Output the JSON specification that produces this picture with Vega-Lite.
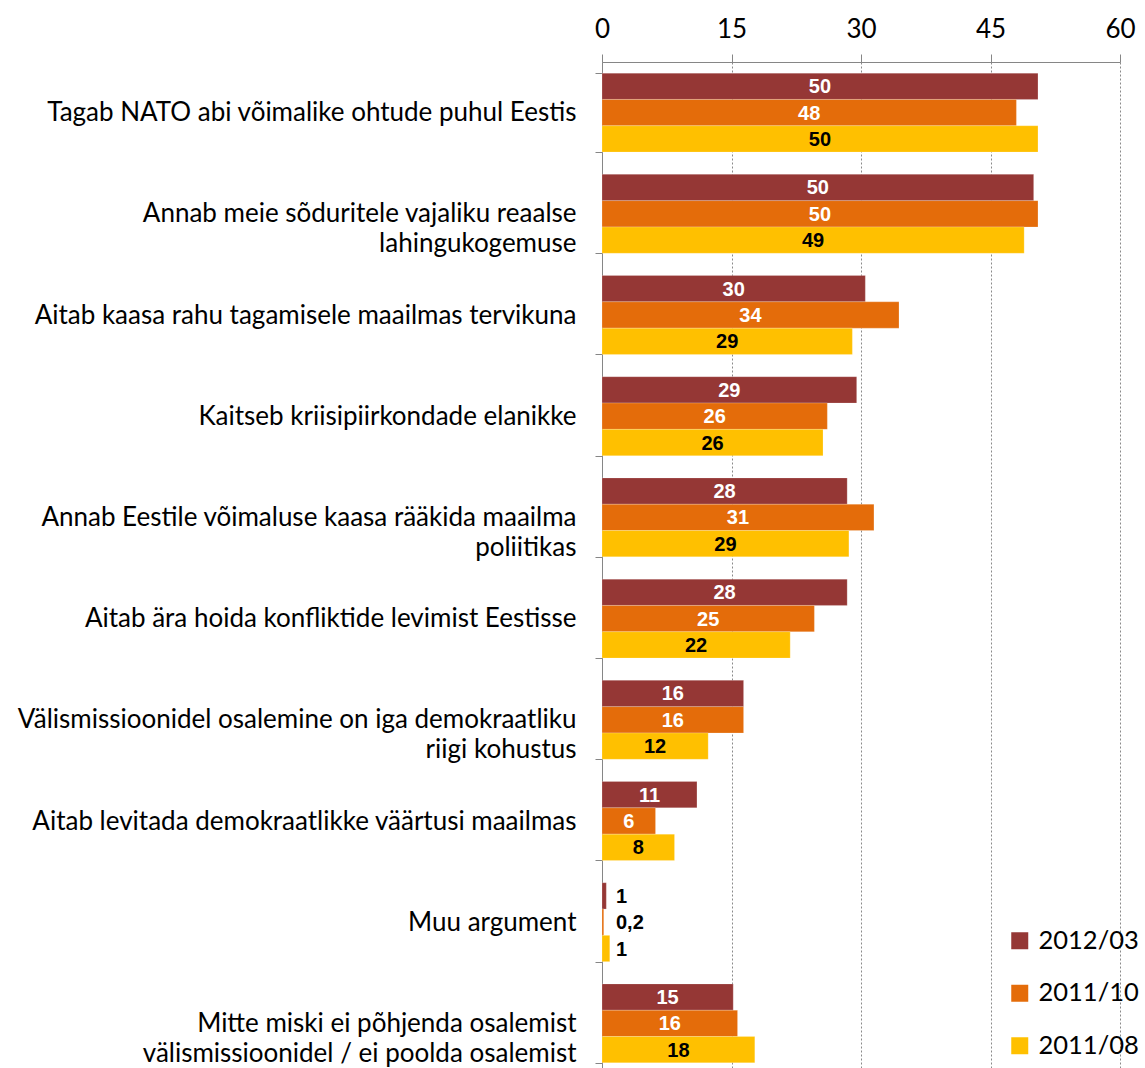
{
  "$schema": "https://vega.github.io/schema/vega-lite/v6.json",
  "width": 518,
  "height": 1012,
  "autosize": {"type": "none"},
  "padding": {"left": 602, "top": 62, "right": 25, "bottom": 0},
  "background": "white",
  "config": {"view": {"stroke": null}, "font": "Lato"},
  "data": {
    "values": [
      {"category": "Tagab NATO abi võimalike ohtude puhul Eestis", "series": "2012/03", "value": 50.5, "label": "50"},
      {"category": "Tagab NATO abi võimalike ohtude puhul Eestis", "series": "2011/10", "value": 48.0, "label": "48"},
      {"category": "Tagab NATO abi võimalike ohtude puhul Eestis", "series": "2011/08", "value": 50.5, "label": "50"},
      {"category": "Annab meie sõduritele vajaliku reaalse lahingukogemuse", "series": "2012/03", "value": 50.0, "label": "50"},
      {"category": "Annab meie sõduritele vajaliku reaalse lahingukogemuse", "series": "2011/10", "value": 50.5, "label": "50"},
      {"category": "Annab meie sõduritele vajaliku reaalse lahingukogemuse", "series": "2011/08", "value": 48.9, "label": "49"},
      {"category": "Aitab kaasa rahu tagamisele maailmas tervikuna", "series": "2012/03", "value": 30.5, "label": "30"},
      {"category": "Aitab kaasa rahu tagamisele maailmas tervikuna", "series": "2011/10", "value": 34.4, "label": "34"},
      {"category": "Aitab kaasa rahu tagamisele maailmas tervikuna", "series": "2011/08", "value": 29.0, "label": "29"},
      {"category": "Kaitseb kriisipiirkondade elanikke", "series": "2012/03", "value": 29.5, "label": "29"},
      {"category": "Kaitseb kriisipiirkondade elanikke", "series": "2011/10", "value": 26.1, "label": "26"},
      {"category": "Kaitseb kriisipiirkondade elanikke", "series": "2011/08", "value": 25.6, "label": "26"},
      {"category": "Annab Eestile võimaluse kaasa rääkida maailma poliitikas", "series": "2012/03", "value": 28.4, "label": "28"},
      {"category": "Annab Eestile võimaluse kaasa rääkida maailma poliitikas", "series": "2011/10", "value": 31.5, "label": "31"},
      {"category": "Annab Eestile võimaluse kaasa rääkida maailma poliitikas", "series": "2011/08", "value": 28.6, "label": "29"},
      {"category": "Aitab ära hoida konfliktide levimist Eestisse", "series": "2012/03", "value": 28.4, "label": "28"},
      {"category": "Aitab ära hoida konfliktide levimist Eestisse", "series": "2011/10", "value": 24.6, "label": "25"},
      {"category": "Aitab ära hoida konfliktide levimist Eestisse", "series": "2011/08", "value": 21.8, "label": "22"},
      {"category": "Välismissioonidel osalemine on iga demokraatliku riigi kohustus", "series": "2012/03", "value": 16.4, "label": "16"},
      {"category": "Välismissioonidel osalemine on iga demokraatliku riigi kohustus", "series": "2011/10", "value": 16.4, "label": "16"},
      {"category": "Välismissioonidel osalemine on iga demokraatliku riigi kohustus", "series": "2011/08", "value": 12.3, "label": "12"},
      {"category": "Aitab levitada demokraatlikke väärtusi maailmas", "series": "2012/03", "value": 11.0, "label": "11"},
      {"category": "Aitab levitada demokraatlikke väärtusi maailmas", "series": "2011/10", "value": 6.2, "label": "6"},
      {"category": "Aitab levitada demokraatlikke väärtusi maailmas", "series": "2011/08", "value": 8.4, "label": "8"},
      {"category": "Muu argument", "series": "2012/03", "value": 0.5, "label": "1"},
      {"category": "Muu argument", "series": "2011/10", "value": 0.2, "label": "0,2"},
      {"category": "Muu argument", "series": "2011/08", "value": 0.9, "label": "1"},
      {"category": "Mitte miski ei põhjenda osalemist välismissioonidel / ei poolda osalemist", "series": "2012/03", "value": 15.2, "label": "15"},
      {"category": "Mitte miski ei põhjenda osalemist välismissioonidel / ei poolda osalemist", "series": "2011/10", "value": 15.7, "label": "16"},
      {"category": "Mitte miski ei põhjenda osalemist välismissioonidel / ei poolda osalemist", "series": "2011/08", "value": 17.7, "label": "18"}
    ]
  },
  "encoding": {
    "y": {
      "field": "category",
      "type": "nominal",
      "sort": null,
      "title": null,
      "scale": {"paddingInner": 0.22, "paddingOuter": 0.11},
      "axis": {
        "orient": "left",
        "domainColor": "#868686",
        "tickColor": "#868686",
        "tickBand": "extent",
        "tickSize": 7,
        "labelFontSize": 26,
        "labelColor": "#000000",
        "labelFont": "Lato",
        "labelPadding": 19,
        "labelLimit": 600,
        "labelLineHeight": 30,
        "labelExpr": "datum.value == 'Annab meie sõduritele vajaliku reaalse lahingukogemuse' ? ['Annab meie sõduritele vajaliku reaalse', 'lahingukogemuse'] : datum.value == 'Annab Eestile võimaluse kaasa rääkida maailma poliitikas' ? ['Annab Eestile võimaluse kaasa rääkida maailma', 'poliitikas'] : datum.value == 'Välismissioonidel osalemine on iga demokraatliku riigi kohustus' ? ['Välismissioonidel osalemine on iga demokraatliku', 'riigi kohustus'] : datum.value == 'Mitte miski ei põhjenda osalemist välismissioonidel / ei poolda osalemist' ? ['Mitte miski ei põhjenda osalemist', 'välismissioonidel / ei poolda osalemist'] : datum.value"
      }
    },
    "yOffset": {
      "field": "series",
      "type": "nominal",
      "sort": ["2012/03", "2011/10", "2011/08"],
      "scale": {"paddingInner": 0, "paddingOuter": 0}
    }
  },
  "layer": [
    {
      "mark": {"type": "bar", "stroke": "white", "strokeWidth": 0.5, "strokeOpacity": 0.4},
      "encoding": {
        "x": {
          "field": "value",
          "type": "quantitative",
          "title": null,
          "scale": {"domain": [0, 60], "nice": false},
          "axis": {
            "orient": "top",
            "values": [0, 15, 30, 45, 60],
            "domainColor": "#868686",
            "tickColor": "#868686",
            "tickSize": 8,
            "labelFontSize": 26,
            "labelColor": "#000000",
            "labelFont": "Lato",
            "labelPadding": 12,
            "labelFlush": false,
            "labelOverlap": false,
            "grid": true,
            "gridColor": "#8a8a8a",
            "gridDash": [2, 2],
            "gridWidth": 1
          }
        },
        "color": {
          "field": "series",
          "type": "nominal",
          "sort": ["2012/03", "2011/10", "2011/08"],
          "scale": {"domain": ["2012/03", "2011/10", "2011/08"], "range": ["#953735", "#E46C0A", "#FFC000"]},
          "legend": {
            "title": null,
            "orient": "none",
            "legendX": 405,
            "legendY": 866,
            "symbolType": "square",
            "symbolSize": 289,
            "symbolStrokeWidth": 0,
            "labelFontSize": 25.5,
            "labelFont": "Lato",
            "labelColor": "#000000",
            "labelOffset": 6,
            "rowPadding": 25.5
          }
        }
      }
    },
    {
      "transform": [
        {"filter": "datum.category != 'Muu argument'"},
        {"calculate": "datum.value / 2", "as": "mid"}
      ],
      "mark": {"type": "text", "font": "Liberation Sans", "fontWeight": "bold", "fontSize": 20, "align": "center", "baseline": "middle", "dy": 1},
      "encoding": {
        "x": {"field": "mid", "type": "quantitative"},
        "text": {"field": "label"},
        "color": {
          "field": "series",
          "type": "nominal",
          "scale": {"domain": ["2012/03", "2011/10", "2011/08"], "range": ["#ffffff", "#ffffff", "#000000"]},
          "legend": null
        }
      }
    },
    {
      "transform": [{"filter": "datum.category == 'Muu argument'"}],
      "mark": {"type": "text", "font": "Liberation Sans", "fontWeight": "bold", "fontSize": 20, "align": "left", "baseline": "middle", "dx": 14, "dy": 1, "color": "#000000"},
      "encoding": {
        "x": {"datum": 0},
        "text": {"field": "label"}
      }
    }
  ],
  "resolve": {"scale": {"color": "independent"}}
}
